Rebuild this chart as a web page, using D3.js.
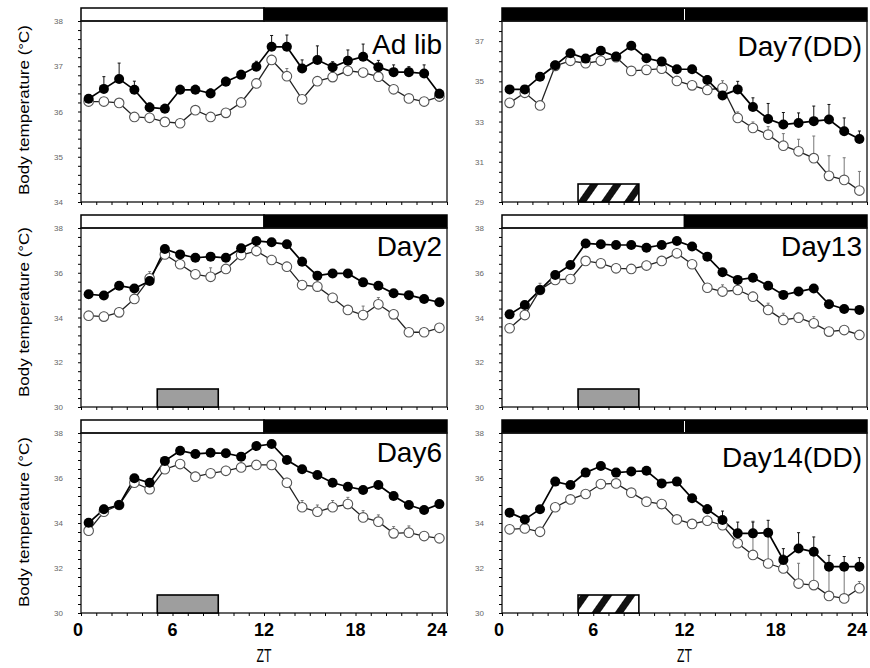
<!DOCTYPE html>
<html>
<head>
<meta charset="utf-8">
<script src="https://cdn.jsdelivr.net/npm/d3@7"></script>
<style>
  body { margin: 0; background: #fff; }
  svg { display: block; font-family: "Liberation Sans", Arial, sans-serif; }
</style>
</head>
<body>
<svg width="870" height="668"></svg>
<script>
// hours of the day (bin centres)
var zt = [0.5,1.5,2.5,3.5,4.5,5.5,6.5,7.5,8.5,9.5,10.5,11.5,12.5,13.5,14.5,15.5,16.5,17.5,18.5,19.5,20.5,21.5,22.5,23.5];
var xTickLabels = [0, 6, 12, 18, 24];

var titles = ["Ad lib", "Day7(DD)", "Day2", "Day13", "Day6", "Day14(DD)"];
var yDomains = [[34, 38], [29, 38], [30, 38], [30, 38], [30, 38], [30, 38]];
var yTickLabels = [[34, 35, 36, 37, 38], [29, 31, 33, 35, 37], [30, 32, 34, 36, 38], [30, 32, 34, 36, 38], [30, 32, 34, 36, 38], [30, 32, 34, 36, 38]];
var lighting = ["LD", "DD", "LD", "LD", "LD", "DD"];
var feedingBar = [null, "hatch", "gray", "gray", "gray", "hatch"];
var feedingWindow = [5, 9];

// filled circles
var adLibFilled = [36.28,36.50,36.72,36.48,36.09,36.06,36.48,36.48,36.40,36.66,36.81,36.99,37.43,37.43,36.95,37.14,36.98,37.12,37.21,36.98,36.87,36.87,36.84,36.39];
var day7Filled  = [34.6,34.6,35.23,35.8,36.4,36.13,36.52,36.23,36.77,36.15,35.98,35.6,35.6,35.07,34.3,34.6,33.72,33.13,32.85,32.93,33.02,33.1,32.52,32.13];
var day2Filled  = [35.04,34.98,35.42,35.30,35.63,37.06,36.82,36.67,36.72,36.67,37.09,37.42,37.36,37.27,36.49,35.87,35.97,35.97,35.57,35.42,35.08,35.0,34.83,34.68];
var day13Filled = [34.14,34.56,35.23,35.9,36.35,37.31,37.27,37.24,37.24,37.12,37.24,37.42,37.17,36.72,36.02,35.68,35.78,35.42,35.01,35.16,35.3,34.59,34.38,34.34];
var day6Filled  = [34.01,34.61,34.8,35.99,35.79,36.76,37.21,37.07,37.12,37.1,36.95,37.42,37.51,36.8,36.39,36.13,35.79,35.61,35.47,35.69,35.2,34.8,34.58,34.84];
var day14Filled = [34.46,34.16,34.61,35.84,35.69,36.24,36.53,36.24,36.29,36.32,35.76,35.84,35.1,34.61,34.13,33.54,33.54,33.57,32.36,32.87,32.72,32.06,32.06,32.06];

// open circles
var adLibOpen = [36.22,36.22,36.19,35.88,35.86,35.77,35.74,36.03,35.88,35.97,36.2,36.62,37.14,36.78,36.27,36.67,36.76,36.9,36.86,36.77,36.49,36.29,36.22,36.33];
var day7Open  = [33.93,34.43,33.8,35.77,36.02,35.9,36.02,36.2,35.52,35.57,35.63,35.02,34.8,34.57,34.68,33.18,32.68,32.35,31.8,31.52,31.18,30.3,30.1,29.57];
var day2Open  = [34.08,34.04,34.23,34.83,35.75,36.82,36.38,35.93,35.82,36.17,36.79,36.97,36.57,36.27,35.45,35.38,34.88,34.34,34.11,34.59,34.14,33.34,33.34,33.54];
var day13Open = [33.52,34.11,35.23,35.68,35.72,36.53,36.42,36.2,36.17,36.32,36.53,36.87,36.38,35.33,35.16,35.23,34.93,34.34,33.89,33.99,33.74,33.37,33.44,33.22];
var day6Open  = [33.66,34.5,34.8,35.79,35.5,36.39,36.62,36.06,36.21,36.32,36.47,36.58,36.58,35.79,34.7,34.5,34.7,34.84,34.25,34.06,33.54,33.57,33.42,33.32];
var day14Open = [33.72,33.76,33.61,34.7,35.05,35.29,35.73,35.76,35.35,34.95,34.84,34.16,33.96,34.1,33.9,33.1,32.58,32.2,31.98,31.31,31.24,30.76,30.65,31.1];

// standard errors (drawn upward)
var adLibFilledSE = [0.08,0.27,0.35,0.19,0.1,0.1,0.1,0.1,0.1,0.1,0.1,0.12,0.25,0.26,0.19,0.31,0.12,0.24,0.28,0.15,0.16,0.12,0.19,0.1];
var day7FilledSE  = [0.1,0.1,0.1,0.1,0.1,0.1,0.1,0.15,0.1,0.1,0.1,0.1,0.15,0.2,0.2,0.4,0.46,0.77,0.6,0.5,0.75,0.75,0.66,0.4];
var day2FilledSE  = [0.05,0.1,0.1,0.1,0.12,0.1,0.1,0.1,0.1,0.1,0.1,0.1,0.1,0.1,0.2,0.15,0.1,0.15,0.1,0.12,0.1,0.1,0.1,0.1];
var day13FilledSE = [0.1,0.1,0.1,0.1,0.1,0.1,0.1,0.1,0.1,0.1,0.1,0.1,0.1,0.1,0.1,0.15,0.1,0.1,0.1,0.1,0.1,0.1,0.1,0.1];
var day6FilledSE  = [0.1,0.15,0.15,0.1,0.1,0.15,0.1,0.1,0.1,0.1,0.1,0.1,0.1,0.1,0.1,0.1,0.1,0.1,0.1,0.1,0.1,0.1,0.1,0.1];
var day14FilledSE = [0.1,0.1,0.1,0.1,0.1,0.1,0.1,0.1,0.1,0.1,0.15,0.15,0.15,0.2,0.4,0.5,0.5,0.55,0.5,0.7,0.66,0.5,0.45,0.4];

var adLibOpenSE = [0.08,0.08,0.08,0.08,0.08,0.08,0.08,0.08,0.08,0.08,0.08,0.1,0.1,0.17,0.08,0.08,0.08,0.1,0.08,0.1,0.08,0.08,0.08,0.08];
var day7OpenSE  = [0.1,0.15,0.2,0.1,0.1,0.1,0.1,0.1,0.15,0.1,0.1,0.1,0.1,0.2,0.35,0.3,0.3,0.4,0.6,0.6,1.1,1.0,1.1,0.95];
var day2OpenSE  = [0.1,0.2,0.2,0.2,0.3,0.15,0.1,0.2,0.4,0.2,0.1,0.1,0.15,0.2,0.2,0.25,0.2,0.2,0.4,0.3,0.2,0.15,0.15,0.1];
var day13OpenSE = [0.1,0.1,0.3,0.15,0.1,0.15,0.15,0.2,0.2,0.2,0.2,0.1,0.1,0.15,0.3,0.3,0.2,0.3,0.3,0.2,0.3,0.1,0.1,0.1];
var day6OpenSE  = [0.1,0.3,0.2,0.2,0.2,0.3,0.2,0.2,0.1,0.2,0.1,0.1,0.1,0.2,0.3,0.3,0.3,0.3,0.3,0.3,0.3,0.3,0.2,0.1];
var day14OpenSE = [0.1,0.1,0.2,0.1,0.1,0.1,0.1,0.1,0.15,0.1,0.1,0.15,0.2,0.2,0.2,0.5,1.5,1.4,0.6,0.9,1.3,1.3,1.3,0.3];

var filledSeries = [adLibFilled, day7Filled, day2Filled, day13Filled, day6Filled, day14Filled];
var openSeries = [adLibOpen, day7Open, day2Open, day13Open, day6Open, day14Open];
var filledSE = [adLibFilledSE, day7FilledSE, day2FilledSE, day13FilledSE, day6FilledSE, day14FilledSE];
var openSE = [adLibOpenSE, day7OpenSE, day2OpenSE, day13OpenSE, day6OpenSE, day14OpenSE];

// layout
var cols = [[81, 447], [502, 867]];
var rows = [{top: 21, bottom: 202, label: 110},
            {top: 228, bottom: 407, label: 312},
            {top: 433, bottom: 613, label: 522}];
var titleBase = [54, 56, 256, 256, 462, 467];
var minorStep = [0.2, 0.5, 0.4, 0.4, 0.4, 0.4];

var svg = d3.select('svg');

var pat = svg.append('defs').append('pattern')
  .attr('id', 'hatch')
  .attr('patternUnits', 'userSpaceOnUse')
  .attr('width', 19).attr('height', 19)
  .attr('patternTransform', 'rotate(35)');
pat.append('rect').attr('width', 19).attr('height', 19).attr('fill', '#fff');
pat.append('rect').attr('width', 7).attr('height', 19).attr('fill', '#111');

titles.forEach(function(title, p) {
  var col = cols[p % 2];
  var row = rows[Math.floor(p / 2)];
  var g = svg.append('g');

  var x = d3.scaleLinear().domain([0, 24]).range(col);
  var y = d3.scaleLinear().domain(yDomains[p]).range([row.bottom, row.top]);

  // light / dark bar
  if (lighting[p] == "LD") {
    g.append('rect').attr('x', x(0)).attr('y', row.top - 13)
      .attr('width', x(12) - x(0)).attr('height', 13)
      .attr('fill', '#fff').attr('stroke', '#000').attr('stroke-width', 1.5);
    g.append('rect').attr('x', x(12)).attr('y', row.top - 13)
      .attr('width', x(24) - x(12)).attr('height', 13)
      .attr('fill', '#000').attr('stroke', '#000').attr('stroke-width', 1.5);
  } else {
    g.append('rect').attr('x', x(0)).attr('y', row.top - 13)
      .attr('width', x(24) - x(0)).attr('height', 13)
      .attr('fill', '#000').attr('stroke', '#000').attr('stroke-width', 1.5);
    g.append('line').attr('x1', x(12)).attr('x2', x(12))
      .attr('y1', row.top - 12).attr('y2', row.top - 1)
      .attr('stroke', '#fff').attr('stroke-width', 1);
  }

  // frame
  g.append('rect').attr('x', x(0)).attr('y', row.top)
    .attr('width', x(24) - x(0)).attr('height', row.bottom - row.top)
    .attr('fill', 'none').attr('stroke', '#111').attr('stroke-width', 1.3);

  // feeding window
  if (feedingBar[p]) {
    g.append('rect')
      .attr('x', x(feedingWindow[0])).attr('y', row.bottom - 18)
      .attr('width', x(feedingWindow[1]) - x(feedingWindow[0])).attr('height', 18)
      .attr('fill', feedingBar[p] == 'hatch' ? 'url(#hatch)' : '#9e9e9e')
      .attr('stroke', '#000').attr('stroke-width', 1.6);
  }

  // axes (minor ticks)
  g.append('g')
    .attr('transform', 'translate(0,' + row.bottom + ')')
    .call(d3.axisBottom(x).tickValues(d3.range(0, 25)).tickSize(3).tickFormat(''))
    .call(function(a) { a.select('.domain').remove(); });

  var dom = yDomains[p];
  g.append('g')
    .attr('transform', 'translate(' + x(0) + ',0)')
    .call(d3.axisLeft(y).tickValues(d3.range(dom[0], dom[1] + 0.001, minorStep[p])).tickSize(3).tickFormat(''))
    .call(function(a) { a.select('.domain').remove(); });

  g.selectAll('.ylab')
    .data(yTickLabels[p])
    .enter().append('text')
    .attr('x', x(0) - 18)
    .attr('y', function(d) { return y(d) + 3; })
    .attr('text-anchor', 'end')
    .attr('font-size', 8)
    .attr('fill', '#666')
    .text(function(d) { return d; });

  // series
  var open = zt.map(function(h, i) { return {h: h, v: openSeries[p][i], se: openSE[p][i]}; });
  var filled = zt.map(function(h, i) { return {h: h, v: filledSeries[p][i], se: filledSE[p][i]}; });

  var line = d3.line().x(function(d) { return x(d.h); }).y(function(d) { return y(d.v); });

  g.append('path').datum(open).attr('d', line)
    .attr('fill', 'none').attr('stroke', '#222').attr('stroke-width', 1.3);
  g.append('path').datum(filled).attr('d', line)
    .attr('fill', 'none').attr('stroke', '#000').attr('stroke-width', 1.7);

  [[open, '#777'], [filled, '#111']].forEach(function(s) {
    var eb = g.append('g').attr('stroke', s[1]).attr('stroke-width', 1);
    eb.selectAll('.ev').data(s[0]).enter().append('line')
      .attr('x1', function(d) { return x(d.h); })
      .attr('x2', function(d) { return x(d.h); })
      .attr('y1', function(d) { return y(d.v); })
      .attr('y2', function(d) { return y(d.v + d.se); });
    eb.selectAll('.ec').data(s[0]).enter().append('line')
      .attr('x1', function(d) { return x(d.h) - 1.5; })
      .attr('x2', function(d) { return x(d.h) + 1.5; })
      .attr('y1', function(d) { return y(d.v + d.se); })
      .attr('y2', function(d) { return y(d.v + d.se); });
  });

  g.selectAll('.oc').data(open).enter().append('circle')
    .attr('cx', function(d) { return x(d.h); })
    .attr('cy', function(d) { return y(d.v); })
    .attr('r', 4.8)
    .attr('fill', '#fff').attr('stroke', '#555').attr('stroke-width', 1.1);

  g.selectAll('.fc').data(filled).enter().append('circle')
    .attr('cx', function(d) { return x(d.h); })
    .attr('cy', function(d) { return y(d.v); })
    .attr('r', 5)
    .attr('fill', '#000');

  // panel title
  g.append('text')
    .attr('x', x(24) - 5).attr('y', titleBase[p])
    .attr('text-anchor', 'end')
    .attr('font-size', 28)
    .text(title);

  // y label on left column
  if (p % 2 == 0) {
    g.append('text')
      .attr('transform', 'translate(29,' + row.label + ') rotate(-90)')
      .attr('text-anchor', 'middle')
      .attr('font-size', 15)
      .attr('textLength', 170)
      .attr('lengthAdjust', 'spacingAndGlyphs')
      .text('Body temperature (\u00B0C)');
  }

  // x labels on bottom row
  if (Math.floor(p / 2) == 2) {
    g.selectAll('.xl').data(xTickLabels).enter().append('text')
      .attr('x', function(d, i) { return d == 24 ? x(d) : x(d) - (d == 0 ? 3 : 0); })
      .attr('y', 636)
      .attr('text-anchor', function(d) { return d == 24 ? 'end' : 'middle'; })
      .attr('font-size', 18)
      .attr('font-weight', 'bold')
      .text(function(d) { return d; });
    g.append('text')
      .attr('x', x(12)).attr('y', 662)
      .attr('text-anchor', 'middle')
      .attr('font-size', 18)
      .attr('textLength', 15)
      .attr('lengthAdjust', 'spacingAndGlyphs')
      .text('ZT');
  }
});
</script>
</body>
</html>
